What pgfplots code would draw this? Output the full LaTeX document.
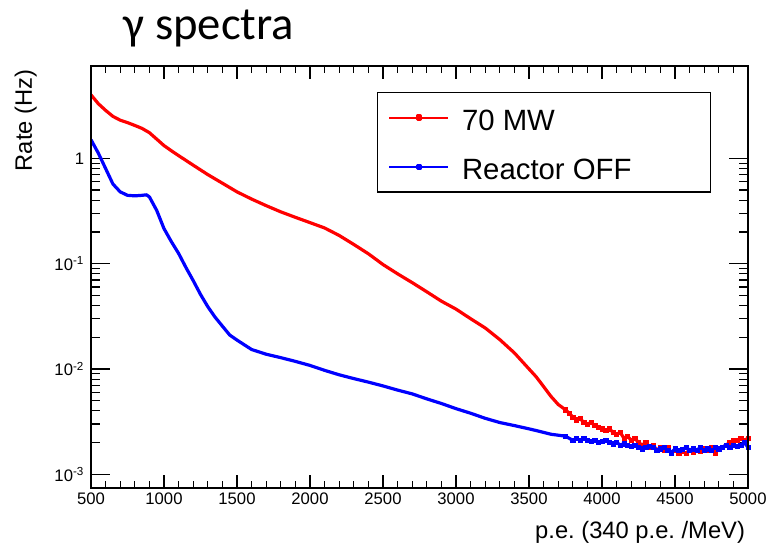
\documentclass[border=0pt]{standalone}
\usepackage{fontspec}
\setmainfont{Liberation Sans}
\newfontfamily\titlefont{Carlito}
\usepackage{pgfplots}
\pgfplotsset{compat=1.18}
\frenchspacing

\pgfplotstableread{
pe rate
500 4.0
550 3.3
600 2.85
650 2.5
700 2.3
750 2.18
800 2.05
850 1.92
900 1.75
950 1.52
1000 1.32
1050 1.18
1100 1.06
1200 0.86
1300 0.70
1400 0.58
1500 0.48
1600 0.41
1700 0.355
1800 0.31
1900 0.275
2000 0.245
2100 0.218
2200 0.185
2300 0.152
2400 0.124
2500 0.098
2600 0.080
2700 0.066
2800 0.054
2900 0.044
3000 0.037
3100 0.030
3200 0.0245
3300 0.019
3400 0.0142
3500 0.0100
3550 0.0084
3600 0.0068
3650 0.0055
3700 0.0046
3750 0.0041
3775 0.0038
3800 0.0035
3825 0.0033
3850 0.0034
3875 0.0031
3900 0.0030
3925 0.0031
3950 0.0029
3975 0.0028
4000 0.0027
4025 0.0026
4050 0.0027
4075 0.0025
4100 0.0024
4125 0.0025
4150 0.0022
4175 0.0023
4200 0.0021
4225 0.0022
4250 0.0020
4275 0.0019
4300 0.0020
4325 0.0018
4350 0.0019
4375 0.0017
4400 0.0018
4425 0.0017
4450 0.0018
4475 0.0016
4500 0.0017
4525 0.0016
4550 0.00165
4575 0.00158
4600 0.0017
4625 0.00162
4650 0.0017
4675 0.00165
4700 0.00175
4725 0.0017
4750 0.0018
4775 0.0016
4800 0.00175
4825 0.0018
4850 0.0019
4875 0.0020
4900 0.0021
4925 0.0021
4950 0.0022
4975 0.0021
5000 0.0022
}\mwdata

\pgfplotstableread{
pe rate
500 1.5
550 1.12
600 0.80
650 0.57
700 0.48
750 0.445
800 0.44
850 0.445
880 0.45
900 0.43
950 0.32
1000 0.215
1050 0.162
1100 0.125
1150 0.092
1200 0.069
1250 0.051
1300 0.039
1350 0.031
1400 0.0255
1450 0.021
1500 0.0188
1600 0.0153
1700 0.0138
1800 0.0128
1900 0.0118
2000 0.0108
2100 0.0097
2200 0.0088
2300 0.0081
2400 0.0075
2500 0.0069
2600 0.0063
2700 0.0058
2800 0.0052
2900 0.0047
3000 0.0042
3100 0.0038
3200 0.0034
3300 0.0031
3400 0.0029
3500 0.0027
3550 0.0026
3600 0.0025
3650 0.0024
3700 0.00235
3750 0.0023
3800 0.0021
3825 0.0022
3850 0.0021
3875 0.0022
3900 0.0021
3925 0.00205
3950 0.0021
3975 0.0020
4000 0.00205
4025 0.0021
4050 0.0020
4075 0.00195
4100 0.0020
4125 0.0019
4150 0.00195
4175 0.0019
4200 0.00185
4225 0.0019
4250 0.0018
4275 0.00175
4300 0.0018
4325 0.00185
4350 0.0018
4375 0.0017
4400 0.00175
4425 0.0018
4450 0.0017
4475 0.0016
4500 0.00175
4525 0.0017
4550 0.00172
4575 0.0018
4600 0.0017
4625 0.00175
4650 0.0017
4675 0.0018
4700 0.0017
4725 0.00175
4750 0.0017
4775 0.0018
4800 0.00175
4825 0.0018
4850 0.0019
4875 0.0018
4900 0.0019
4925 0.00185
4950 0.0019
4975 0.0020
5000 0.0018
}\offdata

\begin{document}
\begin{tikzpicture}
% 1 px of the reference = 0.75pt; origin = lower left corner of the frame
\path[use as bounding box] (-68.25pt,-41.25pt) rectangle (506.25pt,366pt);

% main axis: data, y ticks
\begin{axis}[
    scale only axis,
    width=492.75pt, height=316.5pt,
    at={(0pt,0pt)}, anchor=south west,
    xmin=500, xmax=5000,
    ymode=log, ymin=7.41e-4, ymax=7.52,
    xtick=\empty,
    ytick={0.001,0.01,0.1,1},
    yticklabels={10\textsuperscript{-3},10\textsuperscript{-2},10\textsuperscript{-1},1},
    yticklabel style={font=\fontsize{12.5pt}{14pt}\selectfont, inner sep=0pt, xshift=-5pt},
    tick align=inside,
    major tick length=14.25pt,
    minor tick length=6.75pt,
    tick style={black, line width=0.9pt},
    axis line style={line width=0.9pt},
    legend style={at={(0.435,0.938)}, anchor=north west, draw=black, line width=0.9pt,
        inner xsep=8.25pt, inner ysep=7.75pt, row sep=15.5pt, column sep=9.75pt,
        nodes={inner sep=0pt}, font=\fontsize{22pt}{26pt}\selectfont},
    legend cell align=left,
]
\addplot[red, line width=2.4pt, line join=round,
    legend image code/.code={
        \draw[red, line width=1.5pt] (0pt,0pt) -- (44pt,0pt);
        \fill[red] (21pt,-1.2pt) rectangle (23pt,1.2pt);}
    ] table[x=pe, y=rate] {\mwdata};
\addlegendentry{\makebox[178pt][l]{\rule[-4.8pt]{0pt}{25pt}70 MW}}
\addplot[blue, line width=2.4pt, line join=round,
    legend image code/.code={
        \draw[blue, line width=1.5pt] (0pt,0pt) -- (44pt,0pt);
        \fill[blue] (21pt,-1.2pt) rectangle (23pt,1.2pt);}
    ] table[x=pe, y=rate] {\offdata};
\addlegendentry{\makebox[178pt][l]{\rule[-4.8pt]{0pt}{25pt}Reactor OFF}}
% noisy tails: single bins shown as square markers
\addplot[red, only marks, mark=square*, mark size=1.6pt, restrict x to domain=3750:5000, forget plot] table[x=pe, y=rate] {\mwdata};
\addplot[blue, only marks, mark=square*, mark size=1.6pt, restrict x to domain=3750:5000, forget plot] table[x=pe, y=rate] {\offdata};
\end{axis}

% overlay axis: x ticks (shorter than the y ticks)
\begin{axis}[
    scale only axis,
    width=492.75pt, height=316.5pt,
    at={(0pt,0pt)}, anchor=south west,
    xmin=500, xmax=5000, ymin=0, ymax=1,
    ytick=\empty,
    xtick={500,1000,...,5000},
    xticklabels={500,1000,1500,2000,2500,3000,3500,4000,4500,5000},
    minor x tick num=4,
    xticklabel style={font=\fontsize{12.5pt}{14pt}\selectfont, inner sep=0pt, yshift=-3.75pt},
    tick align=inside,
    major tick length=9.5pt,
    minor tick length=5.5pt,
    tick style={black, line width=0.9pt},
    axis line style={line width=0.9pt},
]
\end{axis}

\node[anchor=base west, font=\titlefont\fontsize{35pt}{40pt}\selectfont] at (21pt,336pt) {γ spectra};
\node[rotate=90, anchor=base east, font=\fontsize{17.8pt}{20pt}\selectfont] at (-44.25pt,317.25pt) {Rate (Hz)};
\node[anchor=base east, font=\fontsize{17.8pt}{20pt}\selectfont] at (494pt,-37.5pt) {p.e. (340 p.e. /MeV)};
\end{tikzpicture}
\end{document}
